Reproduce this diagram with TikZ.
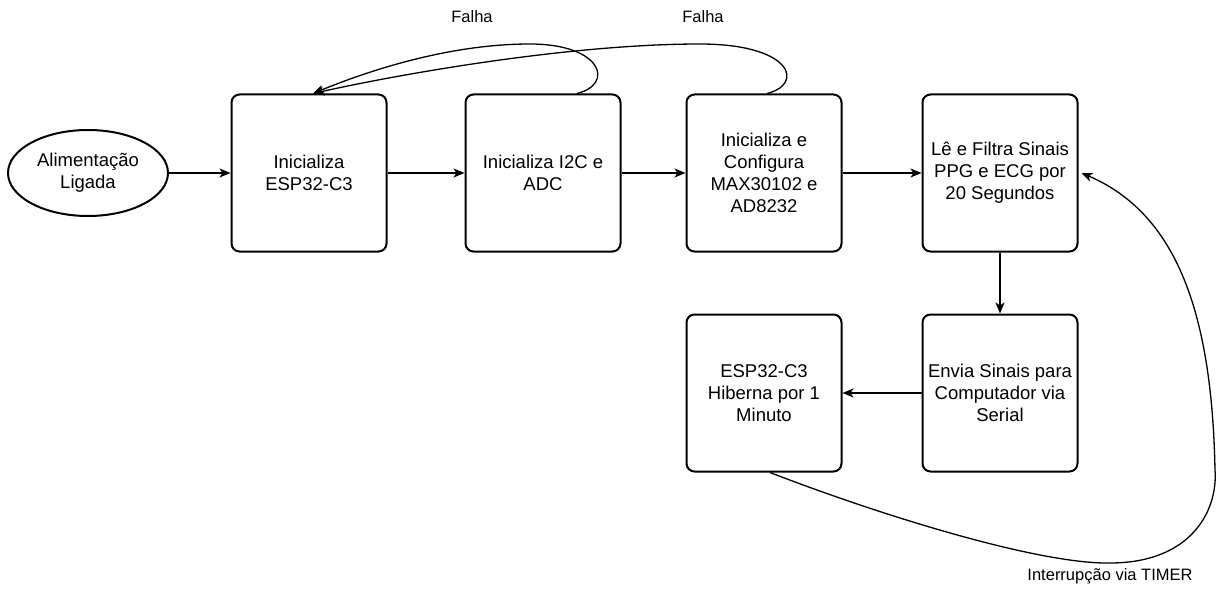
\documentclass[tikz,border=0pt]{standalone}
\usepackage{fontspec}
\setmainfont{Liberation Sans}
\usetikzlibrary{arrows.meta,shapes.geometric,calc}
\begin{document}
\begin{tikzpicture}[x=1pt,y=-1pt,
  box/.style={draw=black,line width=2pt,rounded corners=8pt,minimum width=155pt,minimum height=157pt,align=center,inner sep=2pt,font=\fontsize{18.5}{22}\selectfont},
  startnode/.style={draw=black,line width=2pt,ellipse,minimum width=160pt,minimum height=86pt,align=center,inner sep=1pt,font=\fontsize{18.5}{22}\selectfont},
  conn/.style={draw=black,line width=1.3pt,-{Stealth[length=11pt,width=9pt,inset=3pt]}},
  lbl/.style={font=\fontsize{16.5}{20}\selectfont,inner sep=0pt}]
\useasboundingbox (0,0) rectangle (1219,594);
\node[startnode] (e) at (88,173) {Alimentação\\Ligada};
\node[box] (b1) at (309,173) {Inicializa\\ESP32-C3};
\node[box] (b2) at (543,173) {Inicializa I2C e\\ADC};
\node[box] (b3) at (764,173) {Inicializa e\\Configura\\MAX30102 e\\AD8232};
\node[box] (b4) at (1000,173) {Lê e Filtra Sinais\\PPG e ECG por\\20 Segundos};
\node[box] (b5) at (1000,393) {Envia Sinais para\\Computador via\\Serial};
\node[box] (b6) at (764,393) {ESP32-C3\\Hiberna por 1\\Minuto};
\draw[conn] (e) -- (b1);
\draw[conn] (b1) -- (b2);
\draw[conn] (b2) -- (b3);
\draw[conn] (b3) -- (b4);
\draw[conn] (b4) -- (b5);
\draw[conn] (b5) -- (b6);
\coordinate (s1) at ($(b2.north)+(34,0)$);
\coordinate (s2) at ($(b3.north)+(3,0)$);
\coordinate (t1) at ($(b1.north)+(4,0)$);
\coordinate (s3) at ($(b6.south)+(6,0)$);
\coordinate (t3) at ($(b4.east)+(3,0)$);
\draw[conn] (s1) .. controls (615,84) and (602,44) .. (530,44) .. controls (450,44) and (370,70) .. (t1);
\draw[conn] (s2) .. controls (805,84) and (792,44) .. (700,44) .. controls (570,44) and (400,74) .. (t1);
\draw[conn] (s3) .. controls (880,515) and (1040,565) .. (1112,563) .. controls (1192,562) and (1218,510) .. (1215,470) .. controls (1212,320) and (1180,215) .. (t3);
\node[lbl] (l1) at (472,17) {Falha};
\node[lbl] (l2) at (703,17) {Falha};
\node[lbl] (l3) at (1110,576) {Interrupção via TIMER};
\end{tikzpicture}
\end{document}
